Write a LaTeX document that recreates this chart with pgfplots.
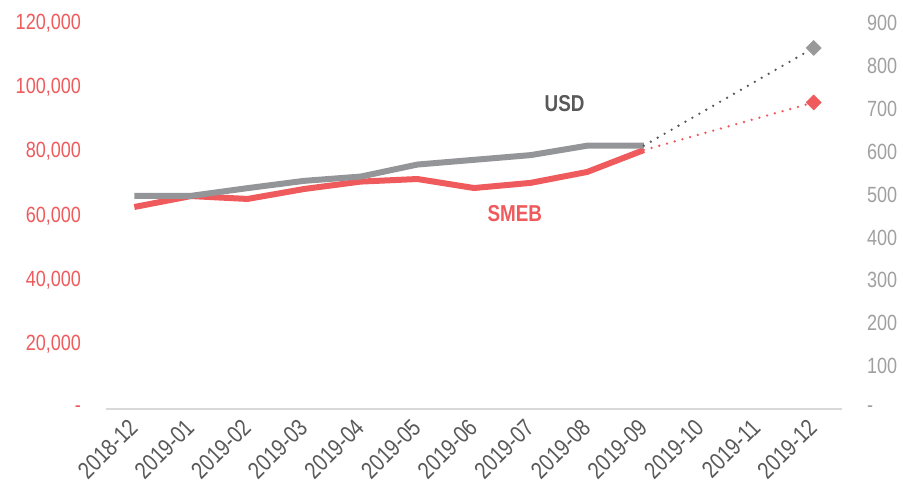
\documentclass[border=0pt]{standalone}
\usepackage{fontspec}
\setmainfont{Liberation Sans}[FakeStretch=0.82]
\usepackage{pgfplots}
\pgfplotsset{compat=1.18}

\definecolor{smeb}{HTML}{EF5A5C}
\definecolor{usd}{HTML}{939598}
\definecolor{usddot}{HTML}{595959}
\definecolor{usdmark}{HTML}{999999}
\definecolor{rtick}{HTML}{A0A0A0}
\definecolor{xlab}{HTML}{595959}
\definecolor{baseline}{HTML}{D9D9D9}

\pgfplotsset{
  base/.style={
    scale only axis, width=368pt, height=193pt,
    xmin=-0.5, xmax=12.5,
    font=\fontsize{11}{13}\selectfont,
    major tick length=0pt,
    scaled y ticks=false,
    clip=false,
  }
}

\begin{document}
\begin{tikzpicture}
% SMEB, left axis
\begin{axis}[base, name=main,
    ymin=0, ymax=120000,
    ytick={0,20000,40000,60000,80000,100000,120000},
    yticklabels={{-\hspace{5pt}},{20,000},{40,000},{60,000},{80,000},{100,000},{120,000}},
    yticklabel style={text=smeb, anchor=east, xshift=-9pt},
    separate axis lines,
    axis x line*=bottom, axis y line*=left,
    y axis line style={draw=none},
    x axis line style={draw=baseline, line width=0.8pt},
    xtick={0,...,12},
    xticklabels={2018-12,2019-01,2019-02,2019-03,2019-04,2019-05,2019-06,2019-07,2019-08,2019-09,2019-10,2019-11,2019-12},
    xticklabel style={text=xlab, font=\fontsize{12}{13}\selectfont, xshift=2.5pt, yshift=-10pt, rotate=45, anchor=base east, inner sep=0pt},
  ]
  \addplot[smeb, line width=3pt, line join=round] coordinates {
    (0,62800) (1,66200) (2,65300) (3,68400) (4,70700) (5,71500)
    (6,68700) (7,70300) (8,73700) (9,80500)
  };
  \addplot[smeb, line width=1.3pt, dash pattern=on 0pt off 4pt, line cap=round] coordinates {
    (9,80500) (12,95300)
  };
  \addplot[only marks, mark=square*, mark size=2.6pt, mark options={rotate=45, smeb, fill=smeb}] coordinates {
    (12,95300)
  };
  \node[text=smeb, font=\fontsize{11.5}{13}\selectfont\bfseries] at (axis cs:6.72,60900) {SMEB};
\end{axis}
% USD, right axis
\begin{axis}[base,
    ymin=0, ymax=900,
    ytick={0,100,...,900},
    yticklabels={-,100,200,300,400,500,600,700,800,900},
    yticklabel style={text=rtick, anchor=west, xshift=9pt},
    axis y line*=right, axis x line=none,
    y axis line style={draw=none},
  ]
  \addplot[usd, line width=3pt, line join=round] coordinates {
    (0,497) (1,497) (2,515) (3,532) (4,542) (5,570)
    (6,581) (7,592) (8,614) (9,614)
  };
  \addplot[usddot, line width=1.3pt, dash pattern=on 0pt off 4pt, line cap=round] coordinates {
    (9,614) (12,842)
  };
  \addplot[only marks, mark=square*, mark size=2.6pt, mark options={rotate=45, usdmark, fill=usdmark}] coordinates {
    (12,842)
  };
  \node[text=usddot, font=\fontsize{11.5}{13}\selectfont\bfseries] at (axis cs:7.6,711) {USD};
\end{axis}
\pgfresetboundingbox
\path ([shift={(-53pt,-37pt)}]main.south west) rectangle ([shift={(30.5pt,11.5pt)}]main.north east);
\end{tikzpicture}
\end{document}
